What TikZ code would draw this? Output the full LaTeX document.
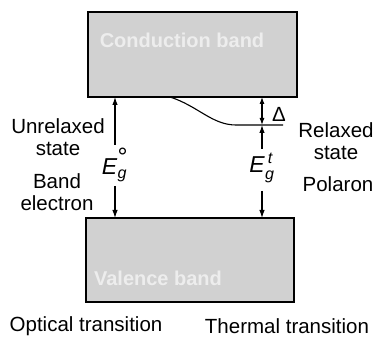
\documentclass[tikz,border=0pt]{standalone}
\usepackage{amsmath}
\usepackage{fontspec}
\setmainfont{Liberation Sans}
\usetikzlibrary{arrows.meta}
\begin{document}
\begin{tikzpicture}[x=1pt,y=-1pt,
  band/.style={draw=black,line width=1.3pt,fill=black!18},
  lbl/.style={font=\fontsize{20.5}{22}\selectfont,align=center,inner sep=0pt},
  ghost/.style={font=\fontsize{20}{22}\selectfont\bfseries,text=black!7,inner sep=0pt},
  arr/.style={line width=1.1pt,-{Latex[length=8pt,width=5.5pt]}},
  darr/.style={line width=1.1pt,{Latex[length=7pt,width=5pt]}-{Latex[length=7pt,width=5pt]}},
  elbl/.style={font=\fontsize{23}{24}\selectfont,inner sep=0pt}]
\useasboundingbox (0,0) rectangle (376,337);
\fill[white] (0,0) rectangle (376,337);
% bands
\draw[band] (88,12) rectangle (297,97);
\draw[band] (86,218) rectangle (294,302);
\node[ghost] (cb) at (182,40) {Conduction band};
\node[ghost] (vb) at (158,278) {Valence band};
\coordinate (cbL) at (115,97);
\coordinate (vbL) at (115,218);
\coordinate (cbR) at (262,97);
\coordinate (vbR) at (262,218);
% relaxed level
\coordinate (lvA) at (170,97);
\coordinate (lvB) at (236,125);
\coordinate (lvC) at (283,125);
\coordinate (lvR) at (262,125);
\draw[line width=1.1pt] (lvA) .. controls (198,106) and (212,125) .. (lvB) -- (lvC);
% optical transition
\node[elbl] (Eo) at (115,165) {\textit{E}$_{\textit{g}}^{\raisebox{-3pt}{\fontsize{25}{25}\selectfont°}}$};
\coordinate (Lu) at (115,145);
\coordinate (Ld) at (115,186);
\draw[arr] (Lu) -- (cbL);
\draw[arr] (Ld) -- (vbL);
% thermal transition
\node[elbl] (Et) at (262,168) {\textit{E}$_{\textit{g}}^{\,\textit{t}}$};
\coordinate (Ru) at (262,149);
\coordinate (Rd) at (262,191);
\draw[darr] (cbR) -- (lvR);
\draw[arr] (Ru) -- (lvR);
\draw[arr] (Rd) -- (vbR);
\node[lbl] (dl) at (279,114) {Δ};
% side labels
\node[lbl] (unr) at (58,137) {Unrelaxed\\state};
\node[lbl] (bel) at (57,192) {Band\\electron};
\node[lbl] (rel) at (336,141) {Relaxed\\state};
\node[lbl] (pol) at (338,184) {Polaron};
\node[lbl] (ot) at (86,326) {Optical transition};
\node[lbl] (tt) at (287,326) {Thermal transition};
\end{tikzpicture}
\end{document}
